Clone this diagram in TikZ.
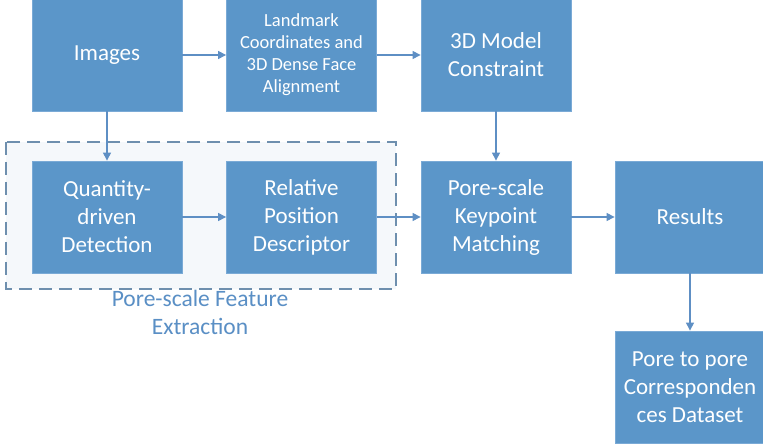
\documentclass[tikz,border=0pt]{standalone}
\usepackage{fontspec}
\setmainfont{Carlito}
\usetikzlibrary{arrows.meta}
\definecolor{boxfill}{HTML}{5B96C9}
\definecolor{boxedge}{HTML}{7AAAD6}
\definecolor{linec}{HTML}{5E8FC4}
\definecolor{dashc}{HTML}{6E8FAE}
\definecolor{labc}{HTML}{5A8FC5}
\definecolor{grpfill}{HTML}{F5F8FB}
\tikzset{
  blk/.style={draw=boxedge, line width=0.8pt, fill=boxfill, text=white, align=center,
    minimum width=150pt, minimum height=112pt, inner sep=0pt,
    font=\fontsize{23}{28}\selectfont},
  smallblk/.style={blk, font=\fontsize{18.5}{22}\selectfont},
  conn/.style={draw=linec, line width=1.1pt, -{Triangle[length=8pt,width=8pt]}},
}
\begin{document}
\begin{tikzpicture}[x=1pt,y=-1pt]
\useasboundingbox (0,0) rectangle (763,446);
\clip (0,0) rectangle (763,446);
\fill[white] (0,0) rectangle (763,446);
% dashed group
\draw[dashc, line width=1.1pt, dash pattern=on 13pt off 7pt, fill=grpfill] (6,142) rectangle (396,289);
\node[text=labc, align=center, font=\fontsize{23.5}{28}\selectfont] (lab) at (200,312) {Pore-scale Feature\\Extraction};
% boxes
\node[blk] (img) at (107,55) {Images};
\node[smallblk] (lm) at (301.5,55) {Landmark\\Coordinates and\\3D Dense Face\\Alignment};
\node[blk] (m3d) at (496,55) {3D Model\\Constraint};
\node[blk] (q) at (107,217) {Quantity-\\driven\\Detection};
\node[blk] (rel) at (301.5,217) {Relative\\Position\\Descriptor};
\node[blk] (kp) at (496,217) {Pore-scale\\Keypoint\\Matching};
\node[blk] (res) at (690,217) {Results};
\node[blk] (pp) at (690,387) {Pore to pore\\Corresponden\\ces Dataset};
% connectors
\draw[conn] (img) -- (lm);
\draw[conn] (lm) -- (m3d);
\draw[conn] (img) -- (q);
\draw[conn] (m3d) -- (kp);
\draw[conn] (q) -- (rel);
\draw[conn] (rel) -- (kp);
\draw[conn] (kp) -- (res);
\draw[conn] (res) -- (pp);
\end{tikzpicture}
\end{document}
